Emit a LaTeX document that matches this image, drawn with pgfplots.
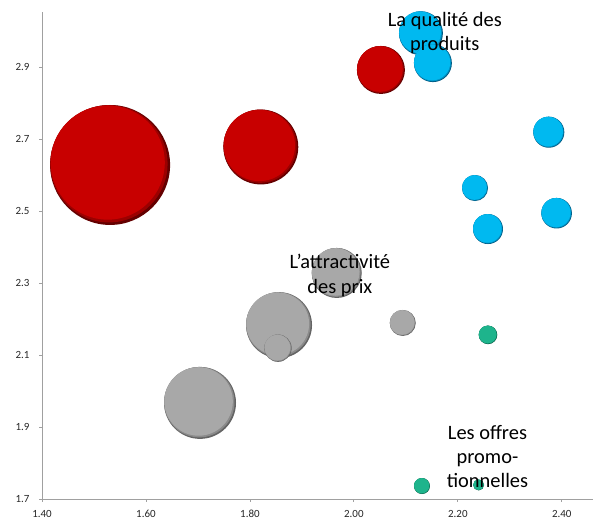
\documentclass[border=0pt]{standalone}
\usepackage{fontspec}
\setmainfont{Carlito}
\usepackage{pgfplots}
\pgfplotsset{compat=1.18}
\usetikzlibrary{plotmarks}

\definecolor{axisgray}{RGB}{160,160,160}
\definecolor{cRed}{RGB}{200,0,0}
\definecolor{cRedM}{RGB}{155,0,0}
\definecolor{cRedD}{RGB}{100,0,0}
\definecolor{cBlue}{RGB}{0,185,240}
\definecolor{cBlueM}{RGB}{0,145,195}
\definecolor{cBlueD}{RGB}{0,90,130}
\definecolor{cGray}{RGB}{168,168,168}
\definecolor{cGrayM}{RGB}{138,138,138}
\definecolor{cGrayD}{RGB}{100,100,100}
\definecolor{cGreen}{RGB}{30,180,140}
\definecolor{cGreenM}{RGB}{20,140,108}
\definecolor{cGreenD}{RGB}{8,90,68}

\newcommand\bubblemark[4]{%
  \pgfdeclareplotmark{#1}{%
    \pgfpathcircle{\pgfpointorigin}{\pgfplotmarksize}%
    \pgfsetfillcolor{#4}\pgfusepathqfill
    \pgfpathcircle{\pgfpoint{-0.02\pgfplotmarksize}{0.02\pgfplotmarksize}}{0.978\pgfplotmarksize}%
    \pgfsetfillcolor{#3}\pgfusepathqfill
    \pgfpathcircle{\pgfpoint{-0.04\pgfplotmarksize}{0.04\pgfplotmarksize}}{0.952\pgfplotmarksize}%
    \pgfsetfillcolor{#2}\pgfusepathqfill}%
}
\bubblemark{bubred}{cRed}{cRedM}{cRedD}
\bubblemark{bubblue}{cBlue}{cBlueM}{cBlueD}
\bubblemark{bubgray}{cGray}{cGrayM}{cGrayD}
\bubblemark{bubgreen}{cGreen}{cGreenM}{cGreenD}

% x y size (bubble area)
\pgfplotstableread{
x y s
1.531 2.628 100
1.821 2.678 39
2.052 2.892 16
}\tblred
\pgfplotstableread{
x y s
2.129 2.994 13.4
2.152 2.911 10
2.375 2.719 6.7
2.390 2.494 6.5
2.258 2.450 6.25
2.233 2.564 4.7
}\tblblue
\pgfplotstableread{
x y s
1.704 1.967 36
1.856 2.183 30.25
1.967 2.328 17.4
1.854 2.119 5.2
2.094 2.189 4.7
}\tblgray
\pgfplotstableread{
x y s
2.258 2.156 2.4
2.131 1.736 1.78
2.240 1.739 0.84
}\tblgreen

\pgfplotsset{
  bub/.style={scatter, only marks, mark=#1,
    visualization depends on={6.02*sqrt(\thisrow{s}) \as \rad},
    scatter/use mapped color={draw=none,fill=none},
    scatter/@pre marker code/.append style={/tikz/mark size=\rad pt}},
}

\begin{document}
\begin{tikzpicture}
\begin{axis}[
  at={(0,0)}, anchor=south west,
  scale only axis, width=551bp, height=487bp,
  xmin=1.40, xmax=2.46, ymin=1.7, ymax=3.053,
  axis x line*=bottom, axis y line*=left,
  axis line style={draw=axisgray, line width=0.8bp, -},
  xtick={1.4,1.6,1.8,2.0,2.2,2.4},
  ytick={1.7,1.9,2.1,2.3,2.5,2.7,2.9},
  tick align=outside, major tick length=3bp,
  tick style={draw=axisgray, line width=0.8bp},
  /pgf/number format/assume math mode=true,
  tick label style={font=\fontsize{11}{12}\selectfont, text=black!85},
  xticklabel style={/pgf/number format/.cd, fixed, fixed zerofill, precision=2, /tikz/.cd, yshift=-4.5bp},
  yticklabel style={/pgf/number format/.cd, fixed, fixed zerofill, precision=1, /tikz/.cd, xshift=-6bp},
  clip=false,
]
\addplot[bub=bubred] table[x=x,y=y] {\tblred};
\addplot[bub=bubblue] table[x=x,y=y] {\tblblue};
\addplot[bub=bubgray] table[x=x,y=y] {\tblgray};
\addplot[bub=bubgreen] table[x=x,y=y] {\tblgreen};

\coordinate (labA) at (axis cs:2.175,2.994);
\coordinate (labB) at (axis cs:1.973,2.322);
\coordinate (labC) at (axis cs:2.257,1.817);
\end{axis}
\node[align=center, font=\fontsize{20.5}{24}\selectfont, inner sep=0pt] at (labA) {La qualité des\\produits};
\node[align=center, font=\fontsize{20.5}{25}\selectfont, inner sep=0pt] at (labB) {L\symbol{39}attractivité\\des prix};
\node[align=center, font=\fontsize{20.5}{24}\selectfont, inner sep=0pt] at (labC) {Les offres\\promo-\\tionnelles};
\pgfresetboundingbox
\path[use as bounding box] (-42bp,-20bp) rectangle (551bp,499bp);
\end{tikzpicture}
\end{document}
